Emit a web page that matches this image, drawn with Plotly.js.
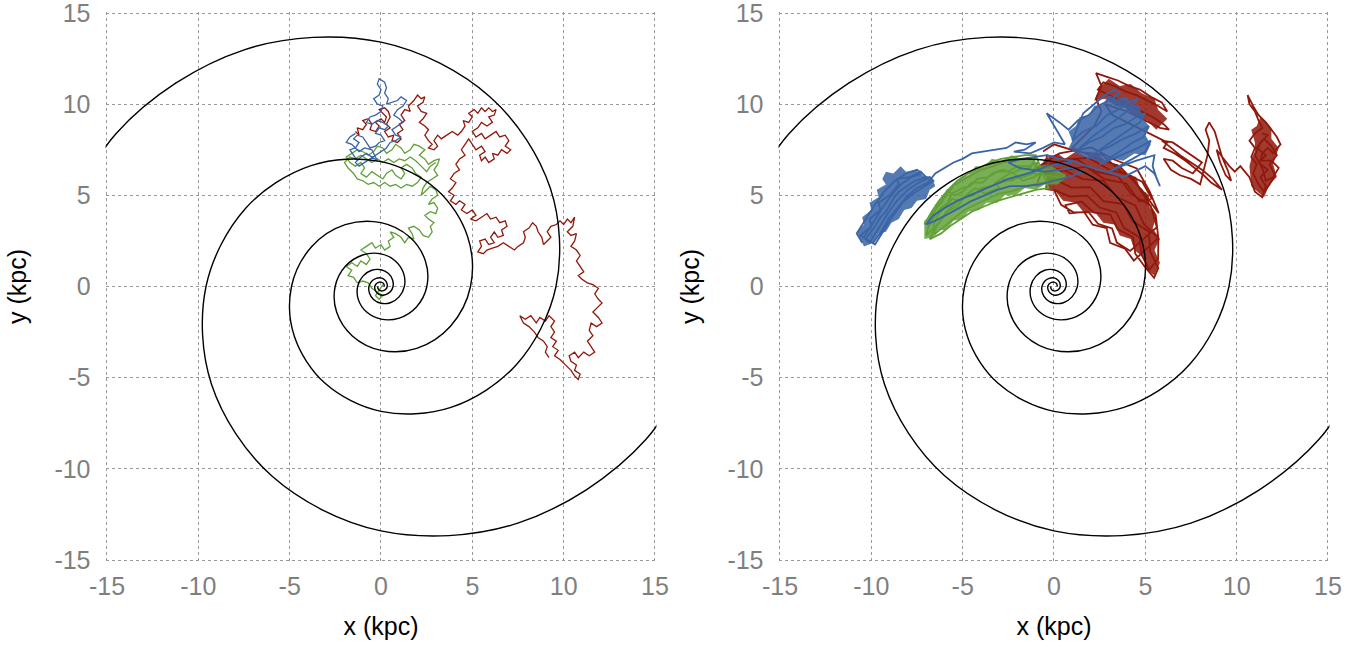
<!DOCTYPE html>
<html><head><meta charset="utf-8">
<script src="https://cdn.plot.ly/plotly-3.0.1.min.js"></script>
<style>html,body{margin:0;padding:0;background:#fff}#chart{width:1370px;height:648px}</style>
</head><body><div id="chart"></div>
<script>
// ---- Spiral arms (kpc) ----
const spiralArm1 = [[-18.74,0],[-14.51,8.38],[-7.49,12.98],[0,13.40],[5.99,10.38],[9.28,5.36],[9.58,0],[7.42,-4.28],[3.83,-6.63],[0,-6.85],[-3.06,-5.31],[-4.74,-2.74],[-4.90,0],[-3.79,2.19],[-1.96,3.39],[0,3.50],[1.57,2.71],[2.43,1.40],[2.51,0],[1.94,-1.12],[1.00,-1.73],[0,-1.79],[-0.80,-1.39],[-1.24,-0.72],[-1.28,0],[-0.99,0.57],[-0.51,0.89],[0,0.92],[0.41,0.71],[0.63,0.37],[0.66,0],[0.51,-0.29],[0.26,-0.45],[0,-0.47],[-0.21,-0.36],[-0.32,-0.19],[-0.34,0],[-0.26,0.15],[-0.13,0.23],[0,0.24],[0.11,0.19],[0.17,0.10],[0.17,0]];
const spiralArm2 = [[18.74,0],[14.51,-8.38],[7.49,-12.98],[0,-13.40],[-5.99,-10.38],[-9.28,-5.36],[-9.58,0],[-7.42,4.28],[-3.83,6.63],[0,6.85],[3.06,5.31],[4.74,2.74],[4.90,0],[3.79,-2.19],[1.96,-3.39],[0,-3.50],[-1.57,-2.71],[-2.43,-1.40],[-2.51,0],[-1.94,1.12],[-1.00,1.73],[0,1.79],[0.80,1.39],[1.24,0.72],[1.28,0],[0.99,-0.57],[0.51,-0.89],[0,-0.92],[-0.41,-0.71],[-0.63,-0.37],[-0.66,0],[-0.51,0.29],[-0.26,0.45],[0,0.47],[0.21,0.36],[0.32,0.19],[0.34,0],[0.26,-0.15],[0.13,-0.23],[0,-0.24],[-0.11,-0.19],[-0.17,-0.10],[-0.17,0]];

// ---- Left panel trajectories (kpc) ----
const leftRed = [[-1.4,8.5],[-1.2,8.3],[-1.3,8.7],[-1.0,8.6],[-0.8,8.9],[-1.0,9.1],[-0.7,9.2],[-0.5,8.9],[-0.6,8.6],[-0.3,8.5],[-0.1,8.8],[-0.3,9.0],[0.0,9.2],[0.2,9.0],[0.3,9.3],[0.1,9.5],[-0.1,9.7],[0.2,9.8],[0.4,9.6],[0.5,9.3],[0.3,8.9],[0.5,8.7],[0.2,8.5],[0.4,8.2],[0.7,8.3],[0.6,8.0],[0.9,7.9],[1.1,8.1],[0.9,8.4],[1.2,8.6],[1.0,8.9],[1.3,9.1],[1.1,9.4],[1.3,9.7],[1.6,9.6],[1.5,9.9],[1.8,10.2],[2.0,10.5],[2.2,10.3],[2.4,10.4],[2.3,10.1],[2.0,9.9],[2.2,9.6],[2.5,9.5],[2.3,9.2],[2.1,9.0],[2.4,8.8],[2.6,8.6],[2.4,8.3],[2.6,8.0],[2.8,7.8],[2.6,7.6],[2.9,7.5],[3.1,7.7],[2.9,8.0],[3.1,8.3],[3.3,8.1],[3.6,8.3],[3.9,8.5],[4.2,8.3],[4.4,8.5],[4.6,8.8],[4.5,9.1],[4.8,9.0],[5.0,9.3],[4.8,9.5],[5.1,9.7],[5.3,9.5],[5.5,9.8],[5.7,9.6],[5.9,9.8],[6.1,9.6],[6.3,9.7],[6.2,9.4],[5.9,9.3],[6.1,9.0],[5.8,8.8],[5.5,9.0],[5.3,8.7],[5.0,8.5],[5.2,8.2],[5.5,8.4],[5.7,8.1],[6.0,8.3],[6.3,8.5],[6.5,8.2],[6.8,8.3],[7.0,8.0],[6.8,7.7],[7.1,7.5],[6.9,7.3],[6.6,7.5],[6.4,7.2],[6.1,7.3],[6.2,7.0],[5.9,6.8],[5.7,7.1],[5.5,6.9],[5.4,7.2],[5.7,7.4],[5.5,7.7],[5.2,7.5],[5.0,7.8],[4.8,8.1],[4.6,7.8],[4.4,7.5],[4.6,7.2],[4.3,7.0],[4.1,6.7],[4.3,6.4],[4.0,6.2],[3.8,5.9],[4.1,5.7],[3.9,5.4],[3.7,5.2],[4.0,5.0],[3.8,4.7],[4.1,4.5],[4.3,4.7],[4.6,4.5],[4.4,4.2],[4.7,4.0],[5.0,4.2],[5.2,3.9],[4.9,3.7],[5.2,3.6],[5.5,3.8],[5.8,4.0],[6.0,3.7],[6.3,3.8],[6.5,3.5],[6.8,3.6],[6.9,3.3],[6.6,3.1],[6.7,2.8],[6.4,2.7],[6.2,3.0],[6.0,2.7],[6.2,2.4],[5.9,2.3],[5.7,2.6],[5.4,2.5],[5.5,2.2],[5.3,1.9],[5.6,1.8],[5.8,2.0],[6.1,2.1],[6.4,2.2],[6.7,2.4],[7.0,2.2],[7.3,2.0],[7.5,2.2],[7.8,2.4],[7.9,2.7],[7.8,3.0],[8.1,3.2],[8.3,3.5],[8.5,3.3],[8.6,3.0],[8.8,2.7],[8.9,2.3],[9.1,2.5],[9.3,2.7],[9.1,3.0],[9.3,3.3],[9.6,3.4],[9.8,3.6],[10.0,3.4],[10.2,3.7],[10.4,3.5],[10.6,3.8],[10.5,3.3],[10.2,3.0],[10.4,2.8],[10.7,2.9],[10.6,2.5],[10.4,2.2],[10.7,2.0],[10.9,1.7],[10.7,1.4],[10.9,1.1],[11.1,0.8],[10.8,0.6],[11.0,0.4],[11.3,0.2],[11.6,0.1],[11.9,-0.1],[11.7,-0.4],[11.9,-0.7],[12.1,-0.9],[11.8,-1.2],[11.6,-1.4],[11.9,-1.7],[12.1,-2.0],[11.8,-2.2],[11.5,-2.0],[11.4,-2.4],[11.6,-2.7],[11.3,-3.0],[11.5,-3.3],[11.7,-3.6],[11.4,-3.8],[11.1,-3.6],[10.8,-3.9],[10.6,-3.6],[10.3,-3.8],[10.4,-4.1],[10.7,-4.3],[10.6,-4.6],[10.9,-4.8],[10.8,-5.1],[10.6,-4.9],[10.4,-4.6],[10.1,-4.3],[9.8,-4.0],[9.5,-3.8],[9.7,-3.5],[9.4,-3.3],[9.6,-3.0],[9.3,-2.8],[9.5,-2.5],[9.3,-2.2],[9.5,-1.9],[9.2,-1.6],[9.0,-1.9],[8.7,-1.7],[8.5,-2.0],[8.2,-1.6],[7.9,-1.8],[7.6,-1.6],[7.8,-2.0],[8.1,-2.2],[8.4,-2.5],[8.6,-2.8],[8.9,-3.0],[9.1,-3.3],[9.0,-3.6],[9.2,-3.9]];
const leftGreen = [[0.1,0.1],[-0.1,-0.2],[-0.3,-0.5],[-0.1,-0.7],[0.1,-0.5],[-0.2,-0.3],[-0.5,-0.1],[-0.7,0.2],[-1.0,0.3],[-1.3,0.2],[-1.5,0.5],[-1.8,0.6],[-1.6,0.9],[-1.9,1.1],[-1.6,1.3],[-1.3,1.1],[-1.1,1.4],[-0.8,1.2],[-0.6,1.5],[-0.8,1.8],[-1.1,2.0],[-0.8,2.2],[-0.5,2.4],[-0.3,2.1],[0.0,2.3],[0.2,2.0],[0.5,2.2],[0.4,2.5],[0.7,2.7],[0.5,3.0],[0.8,2.9],[1.1,2.7],[1.3,2.4],[1.5,2.7],[1.8,2.6],[1.7,2.9],[1.5,3.2],[1.8,3.3],[2.1,3.1],[2.3,2.8],[2.6,2.7],[2.8,3.0],[2.7,3.3],[2.9,3.5],[2.6,3.7],[2.4,3.9],[2.7,4.1],[3.0,4.0],[3.1,4.3],[2.9,4.6],[2.6,4.5],[2.8,4.8],[3.1,5.0],[3.0,5.3],[2.7,5.5],[2.4,5.2],[2.2,5.0],[2.3,5.4],[2.5,5.7],[2.8,5.9],[3.1,6.1],[2.9,6.4],[3.1,6.7],[3.2,7.0],[2.9,6.9],[2.6,6.7],[2.4,7.0],[2.1,7.2],[2.4,7.5],[2.1,7.7],[1.8,7.8],[1.6,7.5],[1.3,7.3],[1.1,7.6],[0.8,7.8],[0.6,7.5],[0.3,7.3],[0.1,7.6],[-0.2,7.7],[-0.4,7.4],[-0.7,7.2],[-1.0,7.4],[-1.3,7.5],[-1.6,7.3],[-1.9,7.1],[-1.7,6.8],[-1.4,6.6],[-1.1,6.8],[-0.9,6.5],[-1.1,6.2],[-0.8,6.0],[-0.5,6.3],[-0.2,6.1],[0.1,5.9],[0.3,6.2],[0.6,6.4],[0.8,6.1],[1.1,5.9],[1.3,6.2],[1.1,6.5],[1.4,6.7],[1.7,6.5],[1.9,6.2],[2.2,6.0],[2.0,5.7],[1.7,5.5],[1.4,5.6],[1.1,5.4],[0.8,5.6],[0.5,5.5],[0.2,5.7],[-0.1,5.5],[-0.4,5.7],[-0.7,5.6],[-1.0,5.8],[-1.3,5.9],[-1.5,6.2],[-1.8,6.5],[-2.0,6.8],[-1.7,7.1],[-1.4,7.0],[-1.1,7.2],[-0.8,7.0],[-0.5,6.8],[-0.2,7.0],[0.1,6.8],[0.4,7.0],[0.7,6.8],[1.0,7.0],[1.3,6.9],[1.6,7.1],[1.9,6.9],[2.2,6.6],[2.5,6.3],[2.7,6.6],[3.0,6.8]];
const leftBlue = [[-1.3,6.9],[-1.5,7.2],[-1.7,7.5],[-1.4,7.6],[-1.2,7.9],[-1.5,8.1],[-1.3,8.3],[-1.0,8.2],[-0.8,7.9],[-0.6,7.6],[-0.3,7.7],[-0.1,7.9],[0.2,8.0],[0.0,8.3],[-0.3,8.4],[-0.1,8.7],[0.2,8.6],[0.4,8.8],[0.1,9.0],[-0.2,9.1],[-0.5,8.9],[-0.8,9.0],[-0.6,9.3],[-0.3,9.4],[0.0,9.6],[0.1,9.9],[-0.2,10.0],[-0.4,10.3],[-0.1,10.5],[0.0,10.8],[-0.2,11.1],[-0.1,11.4],[0.2,11.2],[0.3,10.9],[0.2,10.6],[0.4,10.3],[0.3,10.0],[0.6,10.1],[0.9,10.2],[1.1,10.4],[1.4,10.2],[1.2,9.9],[0.9,9.7],[0.7,9.4],[1.0,9.2],[1.2,9.0],[0.9,8.8],[0.6,8.6],[0.8,8.3],[1.1,8.2],[0.8,8.0],[0.5,7.9],[0.3,7.6],[0.0,7.4],[-0.3,7.2],[-0.6,7.0],[-0.9,6.8],[-1.2,6.6],[-1.4,6.8],[-1.1,7.1],[-0.8,7.3],[-0.5,7.1],[-0.2,6.9],[-0.5,7.5],[-0.9,7.6],[-1.2,7.4],[-1.6,7.8],[-1.9,7.9],[-1.7,8.2],[-1.4,8.4]];

// ---- Right panel trajectories (kpc) ----
const rightRed = [[-0.6,7.4],[0.0,7.8],[1.30,7.39],[2.63,7.24],[3.65,6.32],[4.82,5.75],[5.35,4.82],[4.67,4.67],[3.96,5.65],[2.75,5.89],[1.76,6.57],[0.56,6.38],[-0.58,6.57],[-0.97,5.51],[0.0,5.9],[0.96,5.42],[1.98,5.45],[2.70,4.68],[3.79,4.52],[4.29,3.60],[5.20,3.00],[5.26,1.92],[5.71,1.01],[5.48,0.48],[4.99,1.06],[4.45,1.80],[4.33,2.70],[3.49,3.14],[3.08,3.94],[2.16,4.06],[1.51,4.66],[0.63,4.46],[0.85,4.01],[1.65,4.08],[2.12,3.39],[2.88,3.20],[3.07,2.40],[3.89,2.07],[4.37,1.42],[5.71,2.66],[5.57,3.90],[4.95,4.95],[4.24,6.06],[3.00,6.43],[1.89,7.05],[0.61,6.97],[-0.38,7.19],[-0.54,6.18],[0.56,6.37],[1.58,5.89],[2.71,5.80],[3.44,4.91],[4.45,4.45],[4.91,3.44],[5.71,2.66],[5.70,1.53],[5.22,0.92],[4.79,1.74],[4.68,2.70],[3.83,3.22],[3.41,4.06],[2.50,4.33],[1.81,4.98],[0.87,4.93],[0,5.3],[0.39,4.48],[1.09,4.06],[1.90,4.08],[2.41,3.44],[3.18,3.18],[3.44,2.41],[4.17,1.95],[5.63,3.25],[5.29,4.44],[4.24,5.06],[3.50,6.06],[2.29,6.30],[1.23,6.99],[0,6.8],[-1.13,6.40],[0.3,7.3],[2.05,7.63],[3.26,6.98],[4.53,6.47],[5.23,5.23],[5.73,4.02],[4.8,5.3],[3.6,6.6],[2.4,7.0],[1.0,7.6],[1.6,8.2],[2.2,8.8],[2.6,9.6],[2.3,10.3],[2.6,11.0],[2.3,11.7],[2.9,11.5],[3.5,11.3],[4.1,11.0],[4.7,10.8],[5.3,10.4],[5.9,10.1],[6.2,9.6],[5.7,9.9],[5.1,10.2],[4.5,10.5],[3.9,10.7],[3.3,11.0],[2.7,11.2],[2.4,10.8],[3.0,10.5],[3.6,10.2],[4.2,9.9],[4.8,9.6],[5.4,9.3],[6.0,8.9],[6.3,8.6],[5.8,8.7],[5.2,9.0],[4.6,9.3],[4.0,9.6],[3.4,9.8],[2.8,10.0],[3.2,9.4],[3.8,9.1],[4.4,8.8],[5.0,8.5],[5.6,8.2],[6.2,7.9],[6.0,7.6],[6.6,7.3],[7.2,6.9],[7.7,6.5],[8.2,6.1],[8.6,5.7],[9.2,5.3],[8.7,5.9],[8.1,6.4],[7.5,6.8],[6.9,7.2],[6.3,7.7],[5.9,8.0],[6.5,7.9],[7.1,7.5],[7.7,7.1],[8.1,6.8],[7.6,6.2],[7.0,6.5],[6.5,6.9],[6.0,7.0],[6.4,6.4],[6.9,6.1],[7.5,5.9],[8.0,5.6],[8.4,7.2],[8.5,8.0],[8.3,8.6],[8.5,9.0],[8.8,8.5],[9.0,7.8],[9.2,7.1],[9.5,6.4],[9.7,5.8],[9.4,6.1],[9.1,6.8],[8.9,7.5],[9.3,7.0],[9.6,6.6],[9.9,6.3],[10.2,6.6],[10.7,6.0],[11.0,5.2],[11.4,4.9],[11.6,5.5],[11.3,6.0],[11.7,6.4],[11.2,6.8],[11.6,7.2],[11.1,7.6],[11.5,8.1],[11.9,7.7],[12.2,7.2],[11.8,6.7],[12.1,6.1],[11.8,5.6],[11.5,5.2],[11.2,5.6],[10.9,6.2],[11.1,6.7],[10.8,7.1],[11.0,7.6],[10.7,8.0],[11.0,8.4],[11.4,8.7],[11.2,9.1],[11.0,9.6],[10.7,10.0],[10.6,10.5],[10.9,9.9],[11.2,9.4],[11.6,9.0],[11.9,8.6],[12.2,8.2],[12.4,7.8],[12.0,7.3],[11.7,7.6],[11.4,7.3],[11.3,6.9],[11.9,6.9],[12.3,6.5],[12.0,6.0],[11.6,5.8],[11.4,6.5],[11.0,7.2],[11.3,7.9],[11.7,8.3],[11.4,8.4]];
const rightGreen = [[-6.9,3.2],[-6.5,3.9],[-6.2,4.3],[-5.8,4.6],[-5.6,5.1],[-5.0,5.4],[-4.6,5.5],[-4.2,5.9],[-3.6,6.0],[-3.1,6.3],[-2.5,6.3],[-2.0,6.6],[-1.4,6.6],[-0.9,6.8],[-1.2,6.2],[-1.8,6.1],[-2.3,5.8],[-2.9,5.9],[-3.4,5.5],[-4.0,5.4],[-4.4,5.0],[-4.9,4.9],[-5.3,4.4],[-5.9,4.1],[-6.2,3.6],[-6.7,3.1],[-7.0,2.8],[-6.8,3.6],[-6.4,4.4],[-6.0,4.9],[-5.5,5.5],[-5.1,5.8],[-4.5,6.1],[-4.0,6.4],[-3.3,6.6],[-2.8,6.8],[-2.1,6.9],[-1.5,7.0],[-1.0,7.1],[-1.3,6.5],[-1.9,6.4],[-2.6,6.1],[-3.2,5.7],[-3.0,5.4],[-3.8,5.1],[-4.3,5.4],[-4.7,5.1],[-5.1,4.7],[-5.6,4.8],[-5.9,4.4],[-6.3,4.0],[-6.6,3.4],[-6.5,2.9],[-6.0,3.3],[-5.4,3.8],[-4.9,4.2],[-4.3,4.5],[-3.6,4.8],[-3.0,5.1],[-2.4,5.2],[-1.8,5.4],[-1.1,5.6],[-0.5,5.7],[0.2,5.8],[0.6,6.1],[0.1,6.3],[-0.5,6.4],[-1.1,6.0],[-1.7,5.8],[-2.2,6.2],[-2.8,6.4],[-3.4,6.2],[-3.9,5.7],[-4.5,5.7],[-5.0,5.2],[-5.4,5.0],[-5.8,5.2],[-6.1,4.7],[-6.5,4.2],[-7.1,3.4],[-6.7,4.1],[-6.3,4.7],[-5.8,5.3],[-5.3,5.8],[-4.7,6.2],[-4.1,6.5],[-3.5,6.8],[-2.9,7.0],[-2.2,7.1],[-1.6,7.2],[-1.0,7.2],[-0.3,5.4],[-1.0,5.3],[-1.7,5.1],[-2.4,4.9],[-3.1,4.7],[-3.8,4.4],[-4.5,4.1],[-5.1,3.7],[-5.7,3.3],[-6.2,2.9],[-6.8,2.6],[-6.6,3.0],[-6.1,3.8],[-5.7,4.3],[-5.2,4.7],[-4.7,5.0],[-4.1,5.2],[-3.5,5.5],[-2.9,5.7],[-2.3,5.9],[-1.7,6.0],[-1.1,6.2],[-0.4,6.1],[0.3,6.0]];
const rightBlue = [[-10.5,2.4],[-10.8,2.9],[-10.3,3.7],[-9.8,4.5],[-9.3,5.2],[-8.7,5.8],[-8.1,6.2],[-7.5,6.4],[-7.2,6.2],[-7.8,6.0],[-8.4,5.6],[-8.9,5.0],[-9.4,4.3],[-9.9,3.5],[-10.4,2.7],[-10.1,2.4],[-9.6,3.2],[-9.1,4.0],[-8.6,4.7],[-8.0,5.3],[-7.4,5.7],[-6.8,6.0],[-6.6,5.8],[-7.1,5.5],[-7.7,5.1],[-8.3,4.6],[-8.8,3.9],[-9.3,3.1],[-9.8,2.3],[-10.6,2.8],[-10.0,3.3],[-10.1,3.7],[-9.5,4.2],[-9.6,4.6],[-9.0,5.0],[-8.5,5.6],[-8.6,5.9],[-7.9,6.0],[-7.3,6.3],[-7.0,6.0],[-7.6,5.8],[-8.2,5.4],[-8.5,5.2],[-8.8,4.8],[-9.2,4.1],[-9.5,3.8],[-9.8,3.3],[-10.3,2.6],[-9.9,2.4],[-9.4,3.1],[-9.0,3.8],[-8.5,4.4],[-8.0,5.0],[-7.5,5.4],[-6.9,5.7],[-6.5,6.2],[-6.0,6.5],[-5.5,6.8],[-5.0,7.0],[-4.5,7.3],[-3.9,7.4],[-3.2,7.5],[-2.6,7.6],[-2.1,7.9],[-1.5,7.8],[-1.0,7.9],[-1.6,7.5],[-2.2,7.4],[-1.3,7.3],[-0.6,7.6],[0.0,7.9],[0.6,7.8],[0.2,8.5],[-0.4,9.5],[0.3,9.0],[0.8,8.6],[1.3,9.1],[1.9,9.4],[2.4,9.9],[3.0,10.2],[3.6,10.6],[3.3,10.8],[2.8,10.5],[2.2,10.0],[1.6,9.5],[1.0,8.0],[1.6,8.5],[2.3,8.8],[2.9,9.4],[3.5,9.7],[4.1,10.1],[4.6,10.3],[4.2,9.8],[3.6,9.3],[2.9,8.8],[2.2,8.3],[1.3,7.5],[1.9,7.9],[2.6,8.2],[3.3,8.7],[3.9,8.9],[4.5,9.3],[5.0,9.5],[4.7,9.0],[4.1,8.6],[3.5,8.2],[2.8,7.7],[1.8,7.0],[2.4,7.4],[3.1,7.7],[3.8,8.1],[4.5,8.4],[5.2,8.8],[4.9,8.2],[4.3,7.9],[3.6,7.4],[2.5,6.7],[3.2,7.0],[3.9,7.3],[4.6,7.6],[5.3,8.0],[5.0,7.4],[4.3,7.0],[3.0,6.3],[3.7,6.6],[4.5,6.9],[5.5,7.2],[5.4,6.6],[5.6,6.0],[5.8,5.5],[5.5,6.2],[5.0,6.6],[3.8,6.0],[2.8,6.3],[1.8,6.6],[1.0,6.9],[0.3,7.0],[-0.4,7.2],[-1.1,7.1],[-1.8,7.0],[-2.5,6.8],[-1.9,6.5],[-1.2,6.4],[-0.5,6.3],[0.3,6.4],[1.0,6.5],[1.6,6.3],[0.8,6.0],[0.0,5.8],[-0.8,5.6],[-1.6,5.5],[-2.4,5.5],[-3.1,5.3],[-3.8,5.0],[-4.5,4.7],[-5.2,4.3],[-5.9,3.9],[-6.5,3.6],[-7.0,3.4],[-6.6,3.9],[-6.0,4.3],[-5.3,4.7],[-4.6,5.0],[-3.9,5.3],[-3.2,5.6],[-2.5,5.9],[-1.8,6.1],[-1.1,6.3],[-0.4,6.6],[0.3,6.7],[1.0,6.8]];

// ---- Right panel: outlines of the densely covered regions (kpc) ----
const rightBlueCoreA = [[-10.4,2.2],[-9.9,2.4],[-9.6,2.9],[-9.2,3.0],[-8.9,3.5],[-8.5,3.7],[-8.2,4.2],[-7.8,4.3],[-7.5,4.7],[-7.0,4.8],[-6.8,5.3],[-6.5,5.5],[-6.7,6.0],[-7.2,6.1],[-7.6,6.4],[-8.1,6.3],[-8.4,6.6],[-8.8,6.2],[-9.2,6.3],[-9.4,5.9],[-9.2,5.6],[-9.7,5.3],[-9.6,4.9],[-10.1,4.6],[-10.0,4.2],[-10.5,3.8],[-10.4,3.4],[-10.8,3.0],[-10.6,2.6]];
const rightBlueCoreB = [[0.8,7.6],[1.4,7.2],[2.0,7.0],[2.6,6.8],[3.2,7.0],[3.8,6.9],[4.4,7.3],[5.0,7.2],[5.3,7.8],[5.0,8.3],[5.2,8.8],[4.8,9.3],[4.7,9.9],[4.2,10.0],[4.0,10.4],[3.4,10.3],[3.0,10.5],[2.7,10.0],[2.2,9.9],[1.9,9.4],[1.4,9.3],[1.2,8.8],[0.8,8.5],[1.0,8.0]];
const rightGreenCore = [[-7.1,2.6],[-6.6,2.7],[-6.3,3.1],[-5.9,3.1],[-5.5,3.6],[-5.0,3.7],[-4.7,4.1],[-4.1,4.2],[-3.7,4.6],[-3.1,4.6],[-2.7,5.0],[-2.1,5.0],[-1.6,5.4],[-1.0,5.3],[-0.5,5.6],[0.2,5.6],[0.7,6.0],[0.2,6.4],[-0.3,6.7],[-0.8,6.6],[-1.2,7.1],[-1.8,7.0],[-2.3,7.2],[-2.9,6.9],[-3.4,7.0],[-3.8,6.6],[-4.3,6.6],[-4.7,6.1],[-5.1,6.0],[-5.4,5.5],[-5.9,5.3],[-6.0,4.8],[-6.5,4.5],[-6.6,4.0],[-7.1,3.6]];
const rightRedCoreA = [[-0.5,7.0],[0.2,7.3],[0.6,7.0],[1.2,7.4],[1.8,7.1],[2.4,7.3],[2.9,6.8],[3.5,6.7],[3.9,6.2],[4.5,6.0],[4.7,5.4],[5.2,5.0],[5.2,4.4],[5.6,3.8],[5.4,3.2],[5.8,2.6],[5.5,2.0],[5.8,1.3],[5.5,0.6],[5.1,0.9],[4.9,1.6],[4.4,2.0],[4.2,2.6],[3.6,2.8],[3.3,3.4],[2.7,3.5],[2.3,4.0],[1.6,4.1],[1.2,4.6],[0.5,4.7],[0.1,5.2],[-0.5,5.3],[-0.4,6.0],[-0.8,6.4]];
const rightRedCoreB = [[2.2,10.2],[2.5,10.9],[3.0,11.4],[3.6,11.0],[4.2,11.1],[4.8,10.6],[5.5,10.3],[5.7,9.7],[6.2,9.2],[5.6,8.6],[5.1,9.1],[4.5,9.3],[3.9,9.8],[3.4,9.9],[2.8,10.3]];
const rightRedCoreC = [[10.8,5.5],[11.5,4.9],[11.8,5.6],[12.2,6.0],[12.0,6.7],[12.3,7.6],[11.9,8.1],[11.9,8.7],[11.3,9.3],[11.1,8.8],[10.8,8.6],[11.0,7.9],[11.0,7.4],[10.8,7.0],[10.7,6.6]];

const tickVals = [-15,-10,-5,0,5,10,15];
const tickText = ['-15','-10','-5','0','5','10','15'];

const RED='rgb(145,25,12)', BLUE='rgb(57,100,166)', GREEN='rgb(96,160,55)';
const REDF='rgba(145,25,12,0.86)', BLUEF='rgba(57,100,166,0.86)', GREENF='rgba(96,160,55,0.84)';
function tr(pts, color, w, xa, ya, shape){
  return {x: pts.map(p=>p[0]), y: pts.map(p=>p[1]), type:'scatter', mode:'lines',
    line:{color:color, width:w, shape: shape||'linear'}, xaxis:xa, yaxis:ya, hoverinfo:'skip'};
}
function core(pts, fill){
  return {x: pts.map(p=>p[0]), y: pts.map(p=>p[1]), type:'scatter', mode:'lines', fill:'toself',
    fillcolor:fill, line:{width:0, color:fill}, xaxis:'x2', yaxis:'y2', hoverinfo:'skip'};
}
const data = [
  tr(leftRed, RED, 1.3, 'x','y'), tr(leftGreen, GREEN, 1.3, 'x','y'), tr(leftBlue, BLUE, 1.3, 'x','y'),
  tr(spiralArm1,'#000',1.4,'x','y','spline'), tr(spiralArm2,'#000',1.4,'x','y','spline'),
  core(rightRedCoreA, REDF), core(rightRedCoreB, REDF), core(rightRedCoreC, REDF),
  tr(rightRed, RED, 1.8, 'x2','y2'),
  core(rightGreenCore, GREENF), core(rightBlueCoreA, BLUEF), core(rightBlueCoreB, BLUEF),
  tr(rightGreen, GREEN, 1.8, 'x2','y2'), tr(rightBlue, BLUE, 1.8, 'x2','y2'),
  tr(spiralArm1,'#000',1.4,'x2','y2','spline'), tr(spiralArm2,'#000',1.4,'x2','y2','spline')
];
const FONT='Liberation Sans, Arial, Helvetica, sans-serif';
function ax(extra){
  return Object.assign({range:[-15.08,15.08], tickmode:'array', tickvals:tickVals, ticktext:tickText,
    showgrid:true, gridcolor:'#9a9a9a', gridwidth:1, griddash:'3px,3px', zeroline:false, showline:false,
    ticks:'', ticklabeloverflow:'allow', tickfont:{family:FONT, size:25, color:'#7f7f7f'}, fixedrange:true}, extra);
}
const xt = {text:'x (kpc)', font:{family:FONT, size:25, color:'#000'}, standoff:18};
const yt = {text:'y (kpc)', font:{family:FONT, size:25, color:'#000'}, standoff:20};
const layout = {
  width:1370, height:648, margin:{l:0,r:0,t:0,b:0}, showlegend:false,
  paper_bgcolor:'#fff', plot_bgcolor:'#fff',
  xaxis: ax({domain:[0.077036,0.479168], anchor:'y', title:xt, ticklabelstandoff:8}),
  yaxis: ax({domain:[0.133549,0.982191], anchor:'x', title:yt, ticklabelstandoff:14}),
  xaxis2: ax({domain:[0.568277,0.970409], anchor:'y2', title:xt, ticklabelstandoff:8}),
  yaxis2: ax({domain:[0.133549,0.982191], anchor:'x2', title:yt, ticklabelstandoff:14})
};
Plotly.newPlot('chart', data, layout, {staticPlot:true, displayModeBar:false});
</script></body></html>
